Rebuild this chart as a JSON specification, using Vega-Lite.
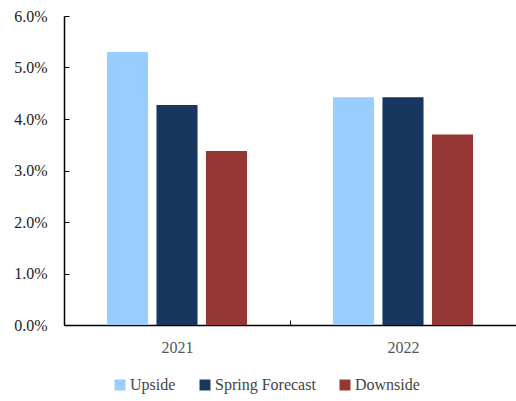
{
  "$schema": "https://vega.github.io/schema/vega-lite/v6.json",
  "autosize": "none",
  "width": 452,
  "height": 309,
  "padding": {"left": 64, "top": 16, "right": 0, "bottom": 76},
  "background": "white",
  "config": {
    "view": {"stroke": null},
    "font": "serif"
  },
  "data": {
    "values": [
      {"year": "2021", "scenario": "Upside", "value": 0.053},
      {"year": "2021", "scenario": "Spring Forecast", "value": 0.0427},
      {"year": "2021", "scenario": "Downside", "value": 0.0338},
      {"year": "2022", "scenario": "Upside", "value": 0.0442},
      {"year": "2022", "scenario": "Spring Forecast", "value": 0.0442},
      {"year": "2022", "scenario": "Downside", "value": 0.037}
    ]
  },
  "mark": {"type": "bar"},
  "encoding": {
    "x": {
      "field": "year",
      "type": "nominal",
      "scale": {"paddingInner": 0, "paddingOuter": 0},
      "axis": {
        "title": null,
        "labelAngle": 0,
        "labelFont": "serif",
        "labelFontSize": 16,
        "labelColor": "#555555",
        "labelPadding": 19,
        "domainColor": "#000000",
        "domainWidth": 1.5,
        "tickColor": "#000000",
        "tickSize": -5,
        "tickBand": "extent"
      }
    },
    "xOffset": {
      "field": "scenario",
      "type": "nominal",
      "sort": ["Upside", "Spring Forecast", "Downside"],
      "scale": {"paddingInner": 0.17, "paddingOuter": 0.868}
    },
    "y": {
      "field": "value",
      "type": "quantitative",
      "scale": {"domain": [0, 0.06], "nice": false},
      "axis": {
        "title": null,
        "format": ".1%",
        "values": [0, 0.01, 0.02, 0.03, 0.04, 0.05, 0.06],
        "grid": false,
        "labelFont": "serif",
        "labelFontSize": 16,
        "labelColor": "#222222",
        "labelPadding": 22,
        "domainColor": "#000000",
        "domainWidth": 1.5,
        "tickColor": "#000000",
        "tickSize": -5
      }
    },
    "color": {
      "field": "scenario",
      "type": "nominal",
      "sort": ["Upside", "Spring Forecast", "Downside"],
      "scale": {
        "domain": ["Upside", "Spring Forecast", "Downside"],
        "range": ["#99CCFF", "#17375E", "#953735"]
      },
      "legend": {
        "title": null,
        "orient": "none",
        "legendX": 48,
        "legendY": 361,
        "direction": "horizontal",
        "symbolType": "square",
        "symbolSize": 120,
        "symbolStrokeWidth": 0,
        "labelFont": "serif",
        "labelFontSize": 16,
        "labelColor": "#444444",
        "labelOffset": 2,
        "columnPadding": 21
      }
    }
  }
}
